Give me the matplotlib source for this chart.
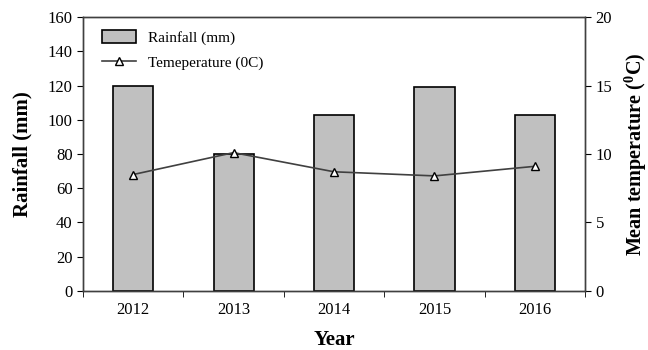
import matplotlib
matplotlib.use("Agg")
from matplotlib import pyplot as plt
import numpy as np

# Annual rainfall and mean temperature
years = ["2012", "2013", "2014", "2015", "2016"]
rainfall = [120, 80, 103, 119, 103]
temperature = [8.5, 10.1, 8.7, 8.4, 9.1]

plt.rcParams['font.family'] = ['Liberation Serif', 'DejaVu Serif']
plt.rcParams['mathtext.fontset'] = 'custom'
plt.rcParams['mathtext.rm'] = 'Liberation Serif'
plt.rcParams['mathtext.bf'] = 'Liberation Serif:bold'


def plot_climate():
    fig = plt.figure(figsize=(6.48, 3.5), dpi=100)
    ax = fig.add_axes([0.128, 0.169, 0.775, 0.782])
    x = np.arange(len(years))

    bars = ax.bar(x, rainfall, width=0.4, color='#c0c0c0', edgecolor='black',
                  linewidth=1.2, label='Rainfall (mm)', zorder=2)
    ax.set_xlim(-0.5, len(years) - 0.5)
    ax.set_ylim(0, 160)
    ax.set_yticks(np.arange(0, 161, 20))
    ax.set_xticks(x)
    ax.set_xticklabels(years)
    ax.set_xticks(np.arange(-0.5, len(years)), minor=True)
    ax.tick_params(axis='x', which='major', length=0, labelsize=12, pad=8)
    ax.tick_params(axis='x', which='minor', length=4, direction='out')
    ax.tick_params(axis='y', labelsize=12, length=4, direction='out')
    ax.set_ylabel("Rainfall (mm)", fontsize=15, fontweight='bold', labelpad=11)
    ax.set_xlabel("Year", fontsize=15, fontweight='bold', labelpad=9)

    ax2 = ax.twinx()
    line, = ax2.plot(x, temperature, color='#404040', linewidth=1.2,
                     marker='^', markersize=6, markerfacecolor='white',
                     markeredgecolor='black', markeredgewidth=1.0,
                     label='Temeperature (0C)', zorder=3)
    ax2.set_ylim(0, 20)
    ax2.set_yticks(np.arange(0, 21, 5))
    ax2.tick_params(axis='y', labelsize=12, length=4, direction='out')
    ax2.set_ylabel(r"Mean temperature ($^{\mathbf{0}}$C)", fontsize=14.5,
                   fontweight='bold', labelpad=7)

    for a in (ax, ax2):
        for s in a.spines.values():
            s.set_color('#404040')
            s.set_linewidth(1.0)

    ax.legend([bars, line], ['Rainfall (mm)', 'Temeperature (0C)'],
              loc='upper left', bbox_to_anchor=(0.02, 0.985), frameon=False,
              fontsize=11, handlelength=2.2, handleheight=0.9,
              labelspacing=0.65, borderaxespad=0.2)

    fig.savefig("out.png", dpi=100)


def main():
    plot_climate()


if __name__ == '__main__':
    main()
